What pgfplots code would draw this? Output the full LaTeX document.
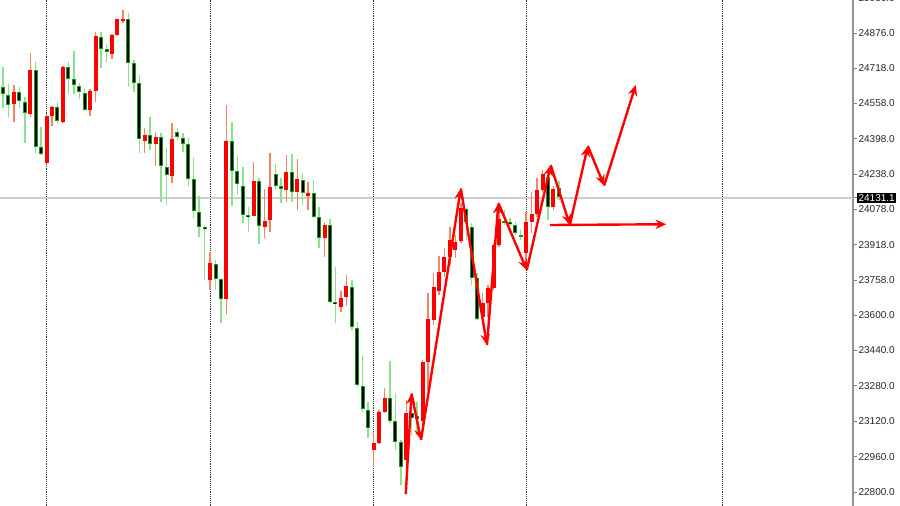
\documentclass[border=0pt]{standalone}
\usepackage{fontspec}
\setmainfont{Liberation Sans}
\usepackage{pgfplots}
\usepackage{pgfplotstable}
\pgfplotsset{compat=1.18}
\usetikzlibrary{arrows.meta}
\definecolor{upred}{RGB}{255,0,0}
\definecolor{upwick}{RGB}{250,130,100}
\definecolor{dnwick}{RGB}{140,225,140}
\definecolor{dnedge}{RGB}{30,150,30}
\definecolor{arrowred}{RGB}{255,0,0}
\definecolor{hline}{RGB}{205,205,205}

\pgfplotstableread{
x o h l c
2 24554.9 24640.8 24473.5 24609.2
5 24509.7 24785.6 24496.1 24708.7
8 24288.0 24509.7 24283.5 24500.6
9 24500.6 24545.8 24455.4 24541.3
11 24473.5 24726.8 24469.0 24722.2
16 24527.8 24622.7 24500.6 24613.7
17 24613.7 24880.5 24563.9 24862.4
20 24781.0 24871.5 24758.4 24867.0
21 24867.0 24939.3 24862.4 24939.3
22 24930.3 24980.0 24921.2 24939.3
26 24387.5 24446.3 24333.3 24414.7
28 24374.0 24428.3 24274.5 24405.6
31 24229.2 24469.0 24197.6 24396.6
38 23758.9 23885.5 23713.6 23835.8
41 23672.9 24550.4 23605.1 24387.5
46 24048.3 24292.6 24048.3 24206.6
48 23998.6 24170.4 23948.8 24025.7
49 24030.2 24333.3 23976.0 24179.5
52 24165.9 24324.2 24111.6 24247.3
54 24156.9 24306.1 24075.5 24215.7
56 24138.8 24202.1 24075.5 24152.4
59 23948.8 24021.2 23862.9 24007.6
62 23636.7 23709.1 23614.1 23677.5
63 23682.0 23781.5 23641.3 23731.7
68 22990.0 23071.4 22913.1 23021.6
69 23021.6 23170.9 23017.1 23161.8
70 23161.8 23270.4 23157.3 23225.2
74 22944.7 23216.1 22899.5 23157.3
77 23121.1 23397.0 23080.4 23388.0
78 23388.0 23700.1 23261.3 23582.5
79 23577.9 23790.5 23555.3 23727.2
80 23709.1 23867.4 23691.0 23795.0
81 23795.0 23903.6 23772.4 23862.9
82 23862.9 23998.6 23826.7 23939.8
83 23894.5 23962.4 23858.4 23930.7
84 23935.3 24107.1 23926.2 24084.5
88 23591.5 23700.1 23577.9 23654.8
89 23654.8 23736.2 23591.5 23722.7
90 23722.7 23926.2 23713.6 23917.2
91 23917.2 24084.5 23908.1 24034.8
96 23881.0 24066.4 23849.3 24021.2
97 24021.2 24156.9 23971.4 24057.4
98 24057.4 24220.2 24043.8 24165.9
99 24165.9 24256.4 24156.9 24238.3
101 24089.0 24184.0 24075.5 24170.4
}\redtab

\pgfplotstableread{
x o h l c
0 24631.8 24722.2 24536.8 24600.1
1 24595.6 24645.3 24496.1 24550.4
3 24609.2 24631.8 24536.8 24568.5
4 24563.9 24586.5 24378.5 24514.2
6 24708.7 24744.9 24333.3 24360.4
7 24360.4 24450.9 24324.2 24328.7
10 24541.3 24563.9 24464.4 24478.0
12 24722.2 24744.9 24600.1 24668.0
13 24668.0 24794.6 24600.1 24640.8
14 24636.3 24649.9 24577.5 24609.2
15 24604.6 24622.7 24523.2 24527.8
18 24857.9 24880.5 24717.7 24803.6
19 24803.6 24826.3 24744.9 24790.1
23 24939.3 24966.5 24631.8 24740.3
24 24740.3 24753.9 24609.2 24649.9
25 24649.9 24686.1 24333.3 24396.6
27 24414.7 24496.1 24346.8 24374.0
29 24405.6 24423.7 24111.6 24274.5
30 24270.0 24355.9 24098.1 24233.8
32 24428.3 24446.3 24392.1 24405.6
33 24401.1 24423.7 24337.8 24374.0
34 24374.0 24401.1 24184.0 24215.7
35 24215.7 24310.7 24039.3 24070.9
36 24066.4 24138.8 23953.3 23998.6
37 23998.6 24007.6 23758.9 23989.5
39 23831.2 23849.3 23713.6 23763.4
40 23763.4 23763.4 23564.4 23672.9
42 24387.5 24473.5 24093.6 24251.9
43 24251.9 24319.7 24143.3 24193.1
44 24184.0 24270.0 24016.7 24052.9
45 24052.9 24089.0 23976.0 24043.8
47 24206.6 24220.2 23921.7 24003.1
50 24238.3 24283.5 24170.4 24184.0
51 24184.0 24220.2 24107.1 24170.4
53 24247.3 24328.7 24111.6 24156.9
55 24211.2 24242.8 24098.1 24152.4
57 24152.4 24211.2 24039.3 24043.8
58 24043.8 24089.0 23903.6 23948.8
60 24007.6 24034.8 23654.8 23659.4
61 23659.4 23817.7 23564.4 23650.3
64 23727.2 23758.9 23532.7 23546.3
65 23541.8 23568.9 23274.9 23284.0
66 23279.4 23415.1 23161.8 23175.4
67 23170.9 23207.1 23044.2 23089.5
71 23225.2 23392.5 23112.1 23121.1
72 23121.1 23247.8 22990.0 23026.2
73 23026.2 23035.2 22831.7 22913.1
75 23157.3 23207.1 23057.8 23134.7
76 23143.7 23207.1 23057.8 23130.2
85 24080.0 24084.5 23939.8 24021.2
86 23998.6 24016.7 23736.2 23767.9
87 23767.9 23790.5 23577.9 23582.5
92 24025.7 24075.5 24007.6 24016.7
93 24021.2 24039.3 24003.1 24012.1
94 24007.6 24021.2 23962.4 23971.4
95 23962.4 23985.0 23939.8 23955.6
100 24224.7 24242.8 24030.2 24089.0
102 24175.0 24206.6 24120.7 24134.3
}\blacktab

\begin{document}
\begin{tikzpicture}
\useasboundingbox (0,0) rectangle (675pt,379.5pt);
\begin{axis}[
  at={(0,0)}, anchor=south west,
  scale only axis, width=639.75pt, height=379.5pt,
  xmin=-0.55, xmax=155.96, ymin=22736.7, ymax=25025.3,
  clip=false,
  scaled y ticks=false, scaled x ticks=false,
  axis y line*=right, axis x line*=bottom,
  x axis line style={draw=none},
  y axis line style={draw=gray!85, line width=1.3pt},
  xtick={8,38,68,96,132}, xticklabels={}, xtick style={draw=none},
  xmajorgrids, major grid style={densely dotted, black!80, line width=0.75pt},
  ytick={22800,22960,23120,23280,23440,23600,23758,23918,24078,24238,24398,24558,24718,24876},
  yticklabels={22800.0,22960.0,23120.0,23280.0,23440.0,23600.0,23758.0,23918.0,24078.0,24238.0,24398.0,24558.0,24718.0,24876.0},
  ytick style={draw=gray, line width=0.6pt}, tick align=outside, major tick length=3pt,
  yticklabel style={font=\fontsize{7.5}{9}\selectfont, text=black!85, inner sep=1pt},
  extra y ticks={24131.1}, extra y tick labels={24131.1},
  extra y tick style={yticklabel style={fill=black, text=white, inner sep=1pt}, tick style={draw=none}},
  candle/.style 2 args={draw=none, mark=none, error bars/.cd, y dir=plus, y explicit, error mark=none,
    error bar style={draw=#1, line width=#2, solid}},
]
% current price line
\addplot[hline, line width=1.5pt] coordinates {(-0.55,24131.1) (155.96,24131.1)};
% wicks
\addplot[candle={upwick}{1.1pt}]
  table[x=x, y=l, y error plus expr=\thisrow{h}-\thisrow{l}] {\redtab};
\addplot[candle={dnwick}{1.1pt}]
  table[x=x, y=l, y error plus expr=\thisrow{h}-\thisrow{l}] {\blacktab};
% bodies
\addplot[candle={upred}{3pt}]
  table[x=x, y=o, y error plus expr=\thisrow{c}-\thisrow{o}] {\redtab};
\addplot[candle={dnedge}{3pt}]
  table[x=x, y=c, y error plus expr={max(\thisrow{o}-\thisrow{c},4.5)}] {\blacktab};
\addplot[candle={black}{1.5pt}]
  table[x=x, y expr=\thisrow{c}+4.5, y error plus expr={max(\thisrow{o}-\thisrow{c}-9,0)}] {\blacktab};
% arrows
\pgfplotsset{arr/.style={arrowred, line width=1.8pt, -{Stealth[length=8pt,width=7pt]}}}
\addplot[arr] coordinates {(73.9,22790) (74.95,23245.5)};
\addplot[arr] coordinates {(74.95,23245.5) (76.7,23035)};
\addplot[arr] coordinates {(76.7,23035) (84.0,24172.7)};
\addplot[arr] coordinates {(84.0,24172.7) (88.8,23464.9)};
\addplot[arr] coordinates {(88.8,23464.9) (90.9,24107)};
\addplot[arr] coordinates {(90.9,24107) (96.1,23804)};
\addplot[arr] coordinates {(96.1,23804) (100.5,24279)};
\addplot[arr] coordinates {(100.5,24279) (104.0,24007.6)};
\addplot[arr] coordinates {(104.0,24007.6) (107.3,24365)};
\addplot[arr] coordinates {(107.3,24365) (110.3,24186)};
\addplot[arr] coordinates {(110.3,24186) (116.1,24641)};
\addplot[arr] coordinates {(100.4,24007.6) (121.7,24011)};
% partially visible top price label (cut by the picture edge as in the reference)
\node[anchor=west, inner sep=1pt, xshift=3pt, font=\fontsize{7.5}{9}\selectfont, text=black!85]
  at (axis cs:155.96,25036) {25036.0};
\end{axis}
\end{tikzpicture}
\end{document}
